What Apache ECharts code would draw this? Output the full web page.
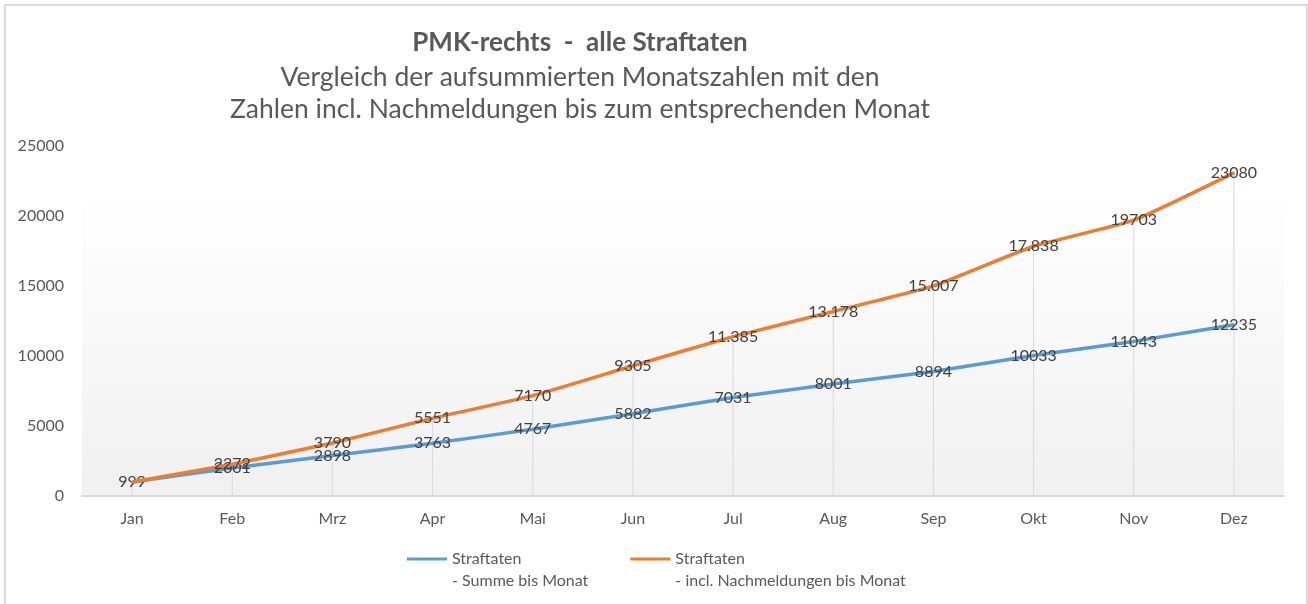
<!DOCTYPE html>
<html>
<head>
<meta charset="utf-8">
<script src="https://cdn.jsdelivr.net/npm/echarts@6/dist/echarts.min.js"></script>
<style>
html,body{margin:0;padding:0;background:#fff;}
#chart{position:absolute;left:0;top:0;width:1308px;height:604px;}
#frame{position:absolute;left:4px;top:4px;width:1300px;height:700px;border:2px solid #d9d9d9;pointer-events:none;}
</style>
</head>
<body>
<div id="chart"></div>
<div id="frame"></div>
<script>
const months = ['Jan','Feb','Mrz','Apr','Mai','Jun','Jul','Aug','Sep','Okt','Nov','Dez'];
const summeValues = [999, 2001, 2898, 3763, 4767, 5882, 7031, 8001, 8894, 10033, 11043, 12235];
const summeLabels = ['999','2001','2898','3763','4767','5882','7031','8001','8894','10033','11043','12235'];
const nachValues = [999, 2272, 3790, 5551, 7170, 9305, 11385, 13178, 15007, 17838, 19703, 23080];
const nachLabels = ['','2272','3790','5551','7170','9305','11.385','13.178','15.007','17.838','19703','23080'];
const yTicks = [0, 5000, 10000, 15000, 20000, 25000];

const FONT = 'Lato';
const chart = echarts.init(document.getElementById('chart'), null, {renderer: 'canvas'});
chart.setOption({
  backgroundColor: '#ffffff',
  animation: false,
  title: [
    {
      text: 'PMK-rechts  -  alle Straftaten',
      left: 575, top: 25, textAlign: 'center',
      textStyle: {fontFamily: FONT, fontSize: 26, fontWeight: 'bold', color: '#595959'}
    },
    {
      text: 'Vergleich der aufsummierten Monatszahlen mit den\nZahlen incl. Nachmeldungen bis zum entsprechenden Monat',
      left: 575, top: 56, textAlign: 'center',
      textStyle: {fontFamily: FONT, fontSize: 26.5, fontWeight: 'normal', color: '#595959', lineHeight: 32}
    }
  ],
  legend: {
    data: ['s1', 's2'],
    left: 402, top: 521,
    icon: 'rect',
    itemWidth: 40, itemHeight: 3, itemGap: 42,
    formatter: function (name) {
      return name === 's1' ? '\nStraftaten\n- Summe bis Monat' : '\nStraftaten\n- incl. Nachmeldungen bis Monat';
    },
    textStyle: {fontFamily: FONT, fontSize: 16, color: '#595959', lineHeight: 22}
  },
  grid: {
    left: 82, right: 24, top: 146, bottom: 108,
    show: true, borderWidth: 0,
    backgroundColor: {
      type: 'linear', x: 0, y: 0, x2: 0, y2: 1,
      colorStops: [
        {offset: 0, color: '#ffffff'},
        {offset: 0.12, color: '#ffffff'},
        {offset: 1, color: '#f0f0f0'}
      ]
    }
  },
  xAxis: {
    type: 'category',
    data: months,
    boundaryGap: true,
    axisLine: {lineStyle: {color: '#d9d9d9', width: 2}},
    axisTick: {show: false},
    axisLabel: {fontFamily: FONT, fontSize: 16, color: '#595959', margin: 15},
    splitLine: {show: false}
  },
  yAxis: {
    type: 'value',
    min: yTicks[0], max: yTicks[yTicks.length - 1], interval: 5000,
    axisLine: {show: false},
    axisTick: {show: false},
    splitLine: {show: false},
    axisLabel: {fontFamily: FONT, fontSize: 16, color: '#595959', margin: 18,
      formatter: function (v) { return String(v); }}
  },
  series: [
    {
      name: 'drop',
      type: 'bar',
      data: nachValues,
      barWidth: 1,
      itemStyle: {color: '#d9d9d9'},
      silent: true,
      z: 1
    },
    {
      name: 's1',
      type: 'line',
      data: summeValues,
      smooth: 0.15,
      symbol: 'circle', symbolSize: 2,
      lineStyle: {color: '#5b9bd5', width: 3.5},
      itemStyle: {color: '#5b9bd5'},
      label: {
        show: true, position: 'inside',
        fontFamily: FONT, fontSize: 16, color: '#404040',
        formatter: function (p) { return summeLabels[p.dataIndex]; }
      },
      z: 3
    },
    {
      name: 's2',
      type: 'line',
      data: nachValues,
      smooth: 0.15,
      symbol: 'circle', symbolSize: 2,
      lineStyle: {color: '#ed7d31', width: 3.5},
      itemStyle: {color: '#ed7d31'},
      label: {
        show: true, position: 'inside',
        fontFamily: FONT, fontSize: 16, color: '#404040',
        formatter: function (p) { return nachLabels[p.dataIndex]; }
      },
      z: 4
    }
  ]
});
</script>
</body>
</html>
